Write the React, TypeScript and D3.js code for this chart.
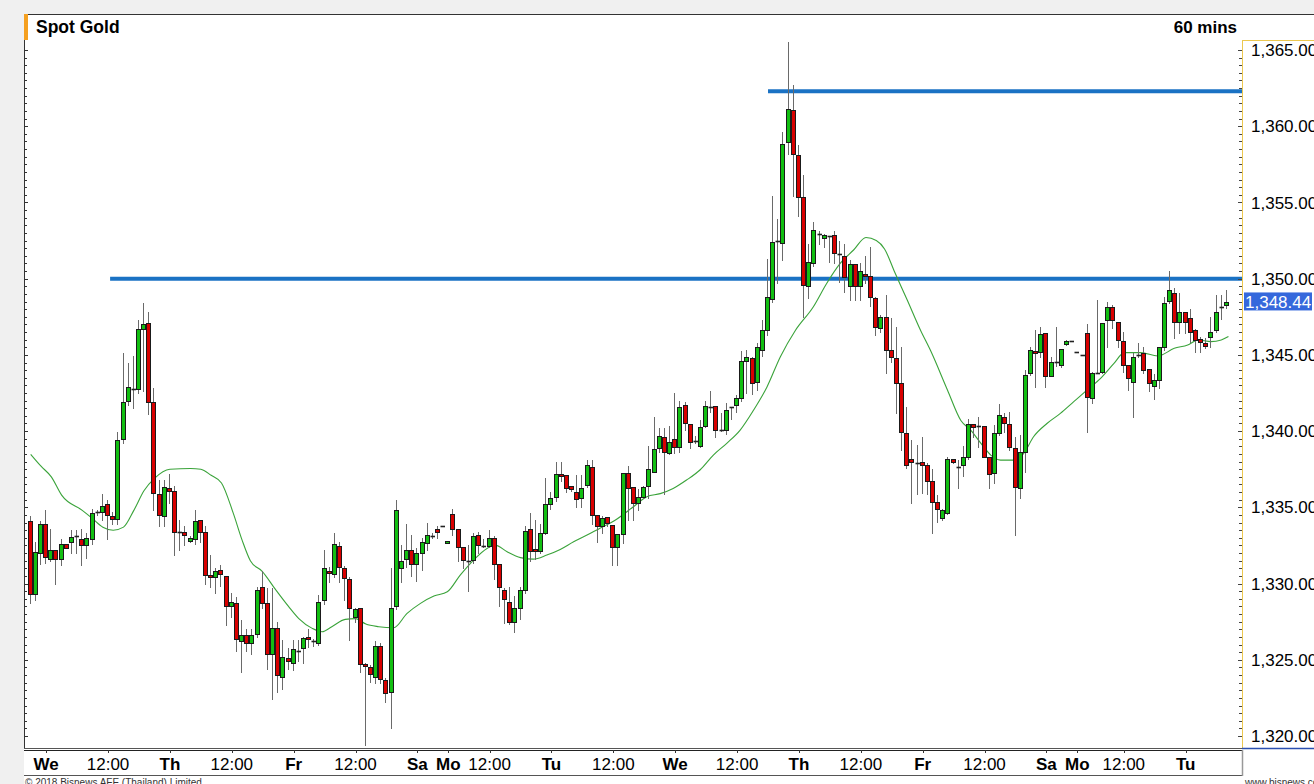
import React from "react";
import * as d3 from "d3";

// Hourly candles: [open, high, low, close]
const ohlc: [number, number, number, number][] = [
  [1334.1, 1334.4, 1328.7, 1329.3],
  [1329.3, 1332.7, 1328.9, 1332.05],
  [1332.0, 1334.1, 1331.3, 1333.9],
  [1333.9, 1334.85, 1331.35, 1331.75],
  [1331.6, 1333.55, 1331.5, 1332.2],
  [1332.2, 1332.2, 1329.95, 1331.6],
  [1331.6, 1332.95, 1331.2, 1332.6],
  [1332.6, 1332.6, 1332.3, 1332.3],
  [1332.7, 1333.5, 1332.0, 1333.05],
  [1333.05, 1333.5, 1332.0, 1333.1],
  [1332.95, 1333.6, 1331.2, 1332.5],
  [1332.5, 1333.3, 1331.65, 1333.0],
  [1332.95, 1334.9, 1332.6, 1334.6],
  [1334.65, 1334.8, 1334.5, 1334.7],
  [1334.7, 1335.9, 1334.15, 1335.1],
  [1335.2, 1335.5, 1332.9, 1334.5],
  [1334.4, 1334.7, 1333.9, 1334.25],
  [1334.25, 1339.95, 1333.9, 1339.4],
  [1339.5, 1345.1, 1339.2, 1341.9],
  [1342.0, 1344.5, 1341.7, 1342.9],
  [1342.75, 1344.9, 1341.5, 1342.7],
  [1342.75, 1347.3, 1342.5, 1346.7],
  [1346.7, 1348.4, 1342.6, 1347.0],
  [1347.1, 1347.8, 1341.1, 1341.9],
  [1341.9, 1342.8, 1334.8, 1335.95],
  [1335.9, 1336.8, 1333.8, 1334.5],
  [1334.45, 1336.8, 1333.8, 1336.35],
  [1336.25, 1337.2, 1335.3, 1336.1],
  [1336.05, 1336.4, 1331.9, 1333.4],
  [1333.4, 1334.15, 1332.2, 1333.3],
  [1333.35, 1333.8, 1332.5, 1333.2],
  [1332.8, 1333.1, 1332.7, 1333.0],
  [1332.9, 1334.85, 1332.6, 1334.1],
  [1334.15, 1334.2, 1332.7, 1333.35],
  [1333.4, 1333.8, 1330.0, 1330.55],
  [1330.55, 1331.9, 1329.8, 1330.45],
  [1330.45, 1331.0, 1329.35, 1330.8],
  [1330.89, 1331.2, 1329.83, 1330.62],
  [1330.5, 1330.5, 1327.3, 1328.5],
  [1328.5, 1329.4, 1327.8, 1328.8],
  [1328.74, 1329.1, 1325.6, 1326.34],
  [1326.25, 1327.6, 1324.2, 1326.6],
  [1326.6, 1327.05, 1325.6, 1326.1],
  [1326.1, 1327.0, 1325.4, 1326.6],
  [1326.66, 1329.8, 1326.5, 1329.6],
  [1329.8, 1330.8, 1328.4, 1328.74],
  [1328.7, 1329.7, 1324.4, 1325.4],
  [1325.4, 1329.7, 1322.4, 1327.1],
  [1327.1, 1327.5, 1322.9, 1324.0],
  [1323.9, 1326.3, 1323.1, 1325.2],
  [1325.13, 1325.75, 1324.4, 1324.93],
  [1324.8, 1326.3, 1324.3, 1325.7],
  [1325.6, 1326.3, 1324.9, 1325.6],
  [1325.8, 1326.5, 1324.8, 1326.4],
  [1326.5, 1327.05, 1325.85, 1326.35],
  [1326.2, 1326.35, 1325.9, 1326.2],
  [1326.1, 1329.25, 1326.0, 1328.8],
  [1328.9, 1332.2, 1328.65, 1331.0],
  [1330.84, 1331.1, 1330.1, 1330.67],
  [1330.6, 1333.3, 1330.45, 1332.57],
  [1332.46, 1332.7, 1330.1, 1331.06],
  [1331.0, 1331.15, 1328.9, 1330.34],
  [1330.3, 1330.45, 1326.3, 1328.4],
  [1327.8, 1328.4, 1327.5, 1328.3],
  [1328.37, 1328.37, 1324.2, 1324.7],
  [1324.75, 1324.8, 1319.4, 1324.6],
  [1324.5, 1324.65, 1323.55, 1324.06],
  [1323.9, 1326.25, 1323.5, 1325.9],
  [1325.9, 1326.1, 1323.45, 1323.73],
  [1323.67, 1323.8, 1322.25, 1322.8],
  [1322.9, 1331.0, 1320.5, 1328.37],
  [1328.5, 1335.5, 1328.3, 1334.8],
  [1331.0, 1332.5, 1330.1, 1331.5],
  [1331.6, 1333.9, 1331.1, 1332.2],
  [1332.2, 1333.2, 1330.5, 1331.3],
  [1331.28, 1332.3, 1330.2, 1331.98],
  [1332.0, 1333.0, 1330.9, 1332.7],
  [1332.68, 1334.0, 1332.2, 1333.16],
  [1333.13, 1333.3, 1333.0, 1333.13],
  [1333.6, 1333.8, 1333.0, 1333.4],
  [1333.75, 1333.75, 1333.75, 1333.75],
  [1332.68, 1332.8, 1332.68, 1332.8],
  [1334.56, 1334.9, 1333.2, 1333.55],
  [1333.6, 1333.6, 1331.5, 1332.4],
  [1332.37, 1332.37, 1331.05, 1331.54],
  [1331.5, 1332.5, 1329.5, 1331.5],
  [1331.54, 1333.33, 1331.36, 1333.1],
  [1333.18, 1333.4, 1332.0, 1332.5],
  [1332.46, 1332.9, 1332.4, 1332.46],
  [1332.46, 1333.5, 1332.4, 1333.0],
  [1333.0, 1333.1, 1330.3, 1331.3],
  [1331.3, 1331.3, 1328.5, 1329.75],
  [1329.57, 1329.7, 1327.4, 1328.96],
  [1328.8, 1329.8, 1327.34, 1327.5],
  [1327.5, 1329.2, 1326.8, 1328.4],
  [1328.37, 1329.8, 1327.7, 1329.57],
  [1329.57, 1333.8, 1329.4, 1333.46],
  [1333.55, 1334.6, 1331.5, 1332.15],
  [1332.24, 1334.2, 1331.6, 1332.15],
  [1332.15, 1333.9, 1332.0, 1333.33],
  [1333.33, 1336.9, 1333.25, 1335.2],
  [1335.2, 1336.0, 1334.9, 1335.6],
  [1335.7, 1338.0, 1335.43, 1337.2],
  [1337.2, 1338.0, 1336.7, 1337.07],
  [1337.12, 1337.12, 1336.0, 1336.24],
  [1336.4, 1336.4, 1336.1, 1336.22],
  [1336.0, 1337.1, 1335.0, 1335.52],
  [1335.6, 1337.1, 1335.0, 1336.3],
  [1336.46, 1338.1, 1336.35, 1337.77],
  [1337.66, 1338.1, 1333.9, 1334.5],
  [1334.5, 1334.5, 1332.7, 1333.77],
  [1333.77, 1334.4, 1333.3, 1334.27],
  [1334.34, 1334.34, 1333.77, 1333.94],
  [1333.83, 1333.83, 1331.2, 1332.4],
  [1332.4, 1333.24, 1331.2, 1333.24],
  [1333.24, 1337.27, 1332.63, 1337.27],
  [1337.23, 1337.7, 1334.2, 1336.24],
  [1336.35, 1336.35, 1334.2, 1335.3],
  [1335.26, 1336.2, 1334.8, 1335.7],
  [1335.65, 1336.4, 1335.6, 1336.35],
  [1336.42, 1339.0, 1335.6, 1337.5],
  [1337.33, 1340.9, 1337.3, 1338.8],
  [1338.87, 1340.2, 1338.65, 1339.7],
  [1339.63, 1340.2, 1335.9, 1338.65],
  [1338.54, 1340.35, 1338.5, 1339.3],
  [1339.48, 1342.5, 1338.54, 1338.98],
  [1338.98, 1341.97, 1338.6, 1341.6],
  [1341.71, 1341.9, 1340.1, 1340.55],
  [1340.46, 1340.46, 1338.9, 1339.3],
  [1339.37, 1339.7, 1339.24, 1339.37],
  [1339.04, 1340.7, 1338.98, 1340.24],
  [1340.35, 1342.0, 1340.24, 1341.64],
  [1341.6, 1342.6, 1341.27, 1341.6],
  [1341.64, 1341.64, 1339.63, 1340.1],
  [1340.07, 1341.2, 1340.0, 1340.07],
  [1340.07, 1341.86, 1339.8, 1341.38],
  [1341.5, 1341.6, 1340.8, 1341.6],
  [1341.7, 1342.4, 1341.27, 1342.14],
  [1342.14, 1345.27, 1341.99, 1344.6],
  [1344.6, 1345.3, 1342.5, 1344.84],
  [1344.77, 1344.84, 1342.43, 1343.17],
  [1343.24, 1345.76, 1342.7, 1345.5],
  [1345.3, 1347.3, 1344.9, 1346.6],
  [1346.6, 1351.3, 1346.3, 1348.8],
  [1348.64, 1355.4, 1348.5, 1352.4],
  [1352.46, 1353.9, 1349.7, 1352.46],
  [1352.35, 1359.6, 1351.2, 1358.83],
  [1358.94, 1365.55, 1358.2, 1361.13],
  [1361.06, 1362.7, 1355.4, 1358.2],
  [1358.1, 1358.8, 1354.1, 1355.37],
  [1355.33, 1356.8, 1347.5, 1349.6],
  [1349.5, 1352.3, 1348.7, 1351.1],
  [1351.0, 1353.7, 1350.8, 1353.2],
  [1352.95, 1353.1, 1352.3, 1352.95],
  [1352.64, 1352.9, 1352.1, 1352.86],
  [1352.8, 1352.8, 1351.1, 1352.8],
  [1352.86, 1353.1, 1351.0, 1351.66],
  [1351.6, 1352.5, 1349.8, 1351.6],
  [1351.5, 1352.3, 1349.1, 1350.1],
  [1349.5, 1351.2, 1348.6, 1350.96],
  [1350.96, 1350.96, 1348.6, 1349.5],
  [1349.5, 1351.0, 1348.6, 1350.5],
  [1350.3, 1351.5, 1349.7, 1350.17],
  [1350.2, 1352.1, 1348.2, 1348.8],
  [1348.7, 1348.8, 1346.3, 1346.85],
  [1346.74, 1347.6, 1346.5, 1347.5],
  [1347.5, 1348.9, 1343.8, 1345.3],
  [1345.3, 1347.4, 1344.55, 1344.84],
  [1344.77, 1346.85, 1341.2, 1343.13],
  [1343.13, 1345.5, 1338.76, 1339.96],
  [1339.9, 1341.6, 1337.55, 1337.8],
  [1338.15, 1339.4, 1335.3, 1338.0],
  [1337.93, 1339.1, 1335.9, 1337.93],
  [1338.0, 1339.63, 1335.96, 1337.77],
  [1337.77, 1337.9, 1335.9, 1336.75],
  [1336.75, 1337.5, 1333.3, 1335.37],
  [1335.37, 1335.8, 1334.06, 1334.87],
  [1334.3, 1334.87, 1334.2, 1334.8],
  [1334.6, 1338.3, 1334.56, 1338.2],
  [1338.2, 1338.2, 1337.9, 1337.95],
  [1337.62, 1338.1, 1336.24, 1337.62],
  [1337.77, 1339.0, 1337.05, 1338.3],
  [1338.3, 1340.8, 1338.2, 1340.46],
  [1340.46, 1340.46, 1339.6, 1340.3],
  [1340.35, 1340.95, 1338.97, 1340.35],
  [1340.35, 1340.35, 1338.28, 1338.3],
  [1338.3, 1338.3, 1336.24, 1337.18],
  [1337.27, 1340.4, 1336.57, 1339.85],
  [1339.85, 1341.8, 1339.74, 1341.05],
  [1340.94, 1341.2, 1339.96, 1340.55],
  [1340.46, 1341.27, 1338.76, 1338.98],
  [1338.87, 1339.63, 1333.18, 1336.35],
  [1336.24, 1339.74, 1335.6, 1338.65],
  [1338.65, 1344.0, 1337.34, 1343.68],
  [1343.78, 1345.5, 1343.68, 1345.32],
  [1345.28, 1346.6, 1342.9, 1345.15],
  [1345.2, 1346.85, 1344.88, 1346.4],
  [1346.41, 1346.41, 1342.9, 1343.6],
  [1343.6, 1344.84, 1343.6, 1344.55],
  [1344.55, 1346.85, 1344.3, 1344.45],
  [1344.34, 1345.4, 1344.2, 1345.37],
  [1345.7, 1346.0, 1345.65, 1345.93],
  [1345.93, 1345.93, 1345.93, 1345.93],
  [1345.21, 1345.21, 1345.21, 1345.21],
  [1344.99, 1344.99, 1344.99, 1344.99],
  [1346.46, 1347.0, 1339.96, 1342.26],
  [1342.15, 1343.9, 1341.82, 1343.83],
  [1343.83, 1348.6, 1343.8, 1343.83],
  [1343.9, 1347.1, 1343.83, 1347.07],
  [1347.29, 1348.5, 1345.5, 1348.16],
  [1348.16, 1348.27, 1346.74, 1347.29],
  [1347.18, 1347.18, 1345.54, 1345.98],
  [1345.93, 1346.52, 1343.9, 1344.34],
  [1344.34, 1344.34, 1342.7, 1343.46],
  [1343.24, 1345.1, 1340.95, 1344.88],
  [1344.99, 1345.8, 1344.88, 1344.99],
  [1345.15, 1345.5, 1343.83, 1344.0],
  [1344.05, 1344.05, 1342.6, 1343.18],
  [1342.96, 1343.74, 1342.08, 1343.35],
  [1343.35, 1345.54, 1342.8, 1345.5],
  [1345.5, 1348.8, 1345.32, 1348.38],
  [1348.56, 1350.5, 1348.43, 1349.26],
  [1349.08, 1349.37, 1346.1, 1347.18],
  [1347.18, 1349.08, 1346.41, 1347.83],
  [1347.83, 1347.83, 1346.41, 1347.18],
  [1347.4, 1348.0, 1345.87, 1346.52],
  [1346.6, 1346.68, 1345.2, 1346.0],
  [1346.02, 1346.15, 1345.2, 1345.87],
  [1345.76, 1346.1, 1345.43, 1345.58],
  [1346.15, 1347.5, 1345.54, 1346.52],
  [1346.63, 1348.9, 1346.52, 1347.83],
  [1348.05, 1348.9, 1347.33, 1348.16],
  [1348.3, 1349.26, 1348.05, 1348.44],
];

// Moving average: [candle index, value]
const maPoints: [number, number][] = [
  [0, 1338.48], [2, 1337.7], [4, 1337.0], [6, 1335.8], [10, 1334.8], [12, 1334.26],
  [14, 1333.7], [16, 1333.5], [18, 1333.7], [20, 1334.8], [22, 1336.1], [24, 1336.9],
  [27, 1337.5], [31, 1337.55], [33, 1337.5], [35, 1337.1], [37, 1336.6], [39.3, 1334.6],
  [41, 1332.85], [42.6, 1331.5], [44.9, 1330.8], [47.5, 1329.6], [50, 1328.5], [52, 1327.7],
  [54.6, 1327.06], [56.5, 1326.84], [58.4, 1327.17], [61, 1327.65], [63, 1327.7], [65, 1327.34],
  [67.5, 1327.17], [70.4, 1327.1], [73, 1328.04], [75.6, 1328.7], [78.2, 1329.18], [80.8, 1329.46],
  [83.3, 1330.55], [85.9, 1331.54], [88.5, 1332.3], [90.1, 1332.52], [92.4, 1332.08], [95, 1331.7],
  [97.5, 1331.6], [100.1, 1331.87], [102.7, 1332.24], [105.3, 1332.74], [107.9, 1333.18],
  [110.5, 1333.65], [113.1, 1334.1], [116.9, 1335.04], [119.5, 1335.7], [122.1, 1335.9],
  [124.6, 1336.24], [127.2, 1336.79], [129.8, 1337.45], [132.4, 1338.43], [135, 1339.2],
  [137.6, 1340.07], [140.2, 1341.38], [142.8, 1342.9], [145.4, 1344.88], [148.3, 1346.6],
  [151.8, 1348.16], [154.4, 1349.7], [157, 1351.0], [159.6, 1351.88], [162, 1352.7],
  [164, 1352.5], [165.6, 1351.95], [167.6, 1350.4], [170, 1348.6], [172.6, 1346.6],
  [174.5, 1345.3], [177.8, 1342.7], [180.4, 1340.7], [182.3, 1340.07], [184.3, 1339.2],
  [186.2, 1338.43], [188.1, 1338.1], [190.7, 1338.1], [192.6, 1338.54], [194.5, 1339.63],
  [197.1, 1340.5], [199.7, 1341.16], [202.3, 1341.93], [204.9, 1342.7], [207.5, 1343.46],
  [210.1, 1344.44], [212.1, 1345.15], [215.3, 1345.15], [218.6, 1344.93], [221.8, 1345.43],
  [224.4, 1345.65], [226.4, 1345.98], [228.9, 1345.87], [230.9, 1345.98], [232.3, 1346.2],
];

// Horizontal levels: price and the candle index where they start
const levelPrices = [1350.0, 1362.3];
const levelStarts = [15.4, 143];

const priceTicks = [1320, 1325, 1330, 1335, 1340, 1345, 1350, 1355, 1360, 1365];
const timeTickIndex = [3, 15, 27, 39, 51, 63, 75, 81, 89, 101, 113, 125, 137, 149, 161, 173, 185, 197, 203, 212, 224];
const timeTickLabel = ["We", "12:00", "Th", "12:00", "Fr", "12:00", "Sa", "Mo", "12:00", "Tu", "12:00", "We", "12:00", "Th", "12:00", "Fr", "12:00", "Sa", "Mo", "12:00", "Tu"];

const lastPrice = 1348.44;
const title = "Spot Gold";
const interval = "60 mins";
const copyright = "© 2018 Bisnews AFE (Thailand) Limited";
const site = "www.bisnews.com";

const FONT = "'Liberation Sans', Arial, Helvetica, sans-serif";

export default function App() {
  const W = 1314;
  const H = 784;
  const plotL = 24;
  const plotR = 1242;
  const plotT = 40;
  const plotB = 748;

  const x = d3.scaleLinear().domain([0, ohlc.length - 1]).range([30.7, 1226.9]);
  const y = d3.scaleLinear().domain([1320, 1365]).range([736, 50]);

  const fmt = d3.format(",.2f");
  const minorTicks = d3.range(1320, 1365.001, 0.5);

  const maLine = d3
    .line<[number, number]>()
    .x((d) => x(d[0]))
    .y((d) => y(d[1]))
    .curve(d3.curveMonotoneX);

  const GREEN = "#12bf12";
  const RED = "#d80000";

  return (
    <svg
      width={W}
      height={H}
      style={{ position: "absolute", left: 0, top: 0, display: "block" }}
      fontFamily={FONT}
    >
      <defs>
        <clipPath id="plotClip">
          <rect x={plotL + 1} y={plotT} width={plotR - plotL - 1} height={plotB - plotT} />
        </clipPath>
        <clipPath id="axisClip">
          <rect x={plotR} y={0} width={W - plotR} height={H} />
        </clipPath>
      </defs>
      <rect x={0} y={0} width={W} height={H} fill="#f0f0f0" />
      <rect x={plotL} y={14} width={W - plotL} height={H - 14} fill="#ffffff" />

      {/* frame */}
      <line x1={plotL} x2={W} y1={14.5} y2={14.5} stroke="#333" strokeWidth={1} />
      <rect x={plotL} y={14} width={4} height={26} fill="#f5a020" />
      <line x1={plotL + 0.5} x2={plotL + 0.5} y1={plotT} y2={plotB} stroke="#333" strokeWidth={1} />

      {/* title row */}
      <text x={36} y={33} fontSize={17.5} fontWeight="bold" fill="#000">{title}</text>
      <text x={1237} y={33} fontSize={17} fontWeight="bold" fill="#000" textAnchor="end">{interval}</text>

      {/* left minor ticks */}
      {minorTicks.map((p) => (
        <line key={"lt" + p} x1={plotL} x2={plotL + (p % 5 === 0 ? 4 : 3)} y1={Math.round(y(p)) + 0.5} y2={Math.round(y(p)) + 0.5} stroke="#333" strokeWidth={1} />
      ))}

      {/* plot contents */}
      <g clipPath="url(#plotClip)">
        {levelPrices.map((p, k) => (
          <line key={"lv" + k} x1={x(levelStarts[k])} x2={plotR} y1={y(p)} y2={y(p)} stroke="#1a72c4" strokeWidth={4} />
        ))}
        <path d={maLine(maPoints) || ""} fill="none" stroke="#3aa33a" strokeWidth={1.1} />
        {ohlc.map(([o, h, l, c], i) => {
          const cx = Math.round(x(i));
          const top = Math.round(y(Math.max(o, c)));
          const bot = Math.round(y(Math.min(o, c)));
          const hi = Math.round(y(Math.max(h, o, c)));
          const lo = Math.round(y(Math.min(l, o, c)));
          const up = c >= o;
          const bodyH = bot - top;
          return (
            <g key={"c" + i}>
              <line x1={cx - 0.5} x2={cx - 0.5} y1={hi} y2={lo + 1} stroke="#6a6a6a" strokeWidth={1} />
              {bodyH < 2 ? (
                <line x1={cx - 2.5} x2={cx + 2} y1={top + 0.5} y2={top + 0.5} stroke="#222" strokeWidth={1.6} />
              ) : (
                <rect x={cx - 2.5} y={top + 0.5} width={4} height={bodyH} fill={up ? GREEN : RED} stroke="#1a1a1a" strokeWidth={1} />
              )}
            </g>
          );
        })}
      </g>

      {/* right axis */}
      <line x1={plotR + 0.5} x2={plotR + 0.5} y1={plotT} y2={plotB} stroke="#ecc850" strokeWidth={1} />
      <line x1={plotR} x2={W} y1={plotT + 0.5} y2={plotT + 0.5} stroke="#ecc850" strokeWidth={1} />
      <line x1={plotR} x2={W} y1={plotB + 0.5} y2={plotB + 0.5} stroke="#2a4fb0" strokeWidth={1.5} />
      {minorTicks.map((p) => (
        <line key={"rt" + p} x1={plotR - (p % 5 === 0 ? 4 : 3)} x2={plotR} y1={Math.round(y(p)) + 0.5} y2={Math.round(y(p)) + 0.5} stroke="#444" strokeWidth={1} />
      ))}
      <g clipPath="url(#axisClip)">
        {priceTicks.map((p) => (
          <text key={"pl" + p} x={1251} y={y(p)} dy="0.36em" fontSize={17} fill="#000">{fmt(p)}</text>
        ))}
        <rect x={1244} y={y(lastPrice) - 10} width={68} height={18} fill="#3568dc" />
        <text x={1245} y={y(lastPrice) - 1} dy="0.36em" fontSize={17} fill="#fff">{fmt(lastPrice)}</text>
      </g>

      {/* time axis */}
      <line x1={plotL} x2={plotR} y1={plotB + 0.5} y2={plotB + 0.5} stroke="#555" strokeWidth={1} />
      <line x1={plotL} x2={plotR} y1={750.5} y2={750.5} stroke="#222" strokeWidth={1} />
      <line x1={plotL} x2={plotR} y1={775.5} y2={775.5} stroke="#555" strokeWidth={1} />
      <line x1={plotR + 0.5} x2={plotR + 0.5} y1={750} y2={776} stroke="#999" strokeWidth={1.5} />
      {timeTickIndex.map((t, k) => (
        <g key={"tt" + k}>
          <line x1={Math.round(x(t)) + 0.5} x2={Math.round(x(t)) + 0.5} y1={750} y2={753} stroke="#333" strokeWidth={1} />
          <text
            x={x(t)}
            y={770}
            textAnchor="middle"
            fontSize={17}
            fontWeight={timeTickLabel[k] === "12:00" ? "normal" : "bold"}
            fill="#000"
          >
            {timeTickLabel[k]}
          </text>
        </g>
      ))}

      {/* footer */}
      <text x={25} y={786} fontSize={10} fill="#333">{copyright}</text>
      <text x={1245} y={786} fontSize={10} fill="#333">{site}</text>
    </svg>
  );
}
